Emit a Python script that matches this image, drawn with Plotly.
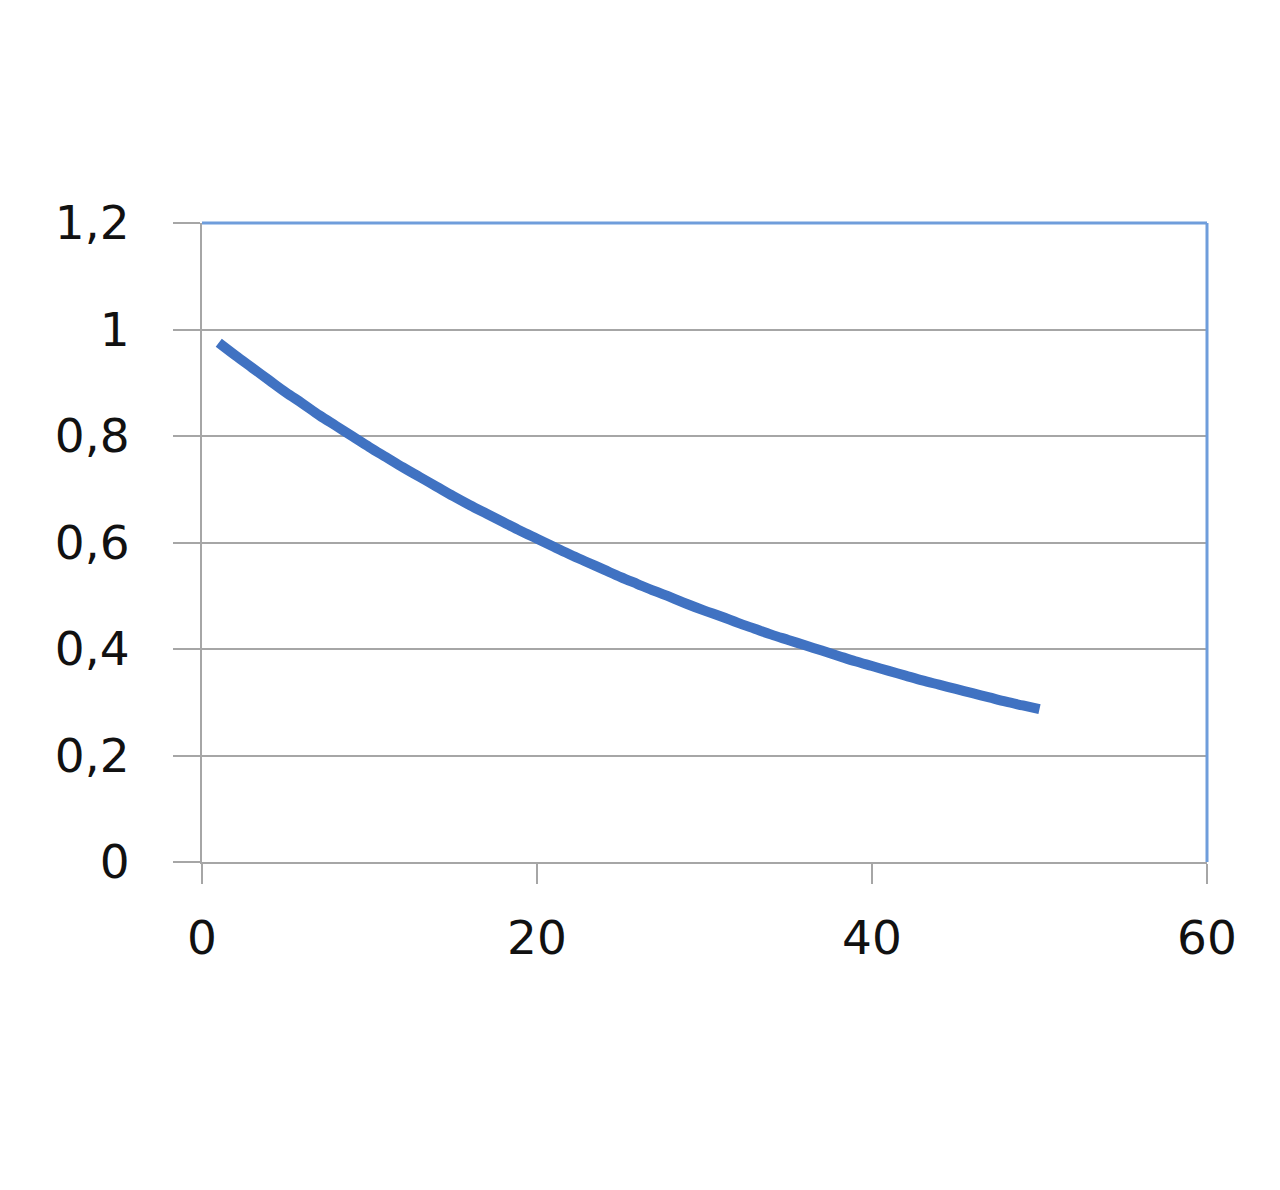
import plotly.graph_objects as go

# Data
x_vals = list(range(1, 51))
y_vals = [0.975, 0.951, 0.928, 0.905, 0.882, 0.861, 0.839, 0.819, 0.799, 0.779,
          0.760, 0.741, 0.723, 0.705, 0.687, 0.670, 0.654, 0.638, 0.622, 0.607,
          0.592, 0.577, 0.563, 0.549, 0.535, 0.522, 0.509, 0.497, 0.484, 0.472,
          0.461, 0.449, 0.438, 0.427, 0.417, 0.407, 0.397, 0.387, 0.377, 0.368,
          0.359, 0.350, 0.341, 0.333, 0.325, 0.317, 0.309, 0.301, 0.294, 0.287]
x_ticks = [0, 20, 40, 60]
y_ticks = [0, 0.2, 0.4, 0.6, 0.8, 1.0, 1.2]

GRID = "#a6a6a6"
BORDER = "#6f9ddb"
LINE = "#4072c2"

fig = go.Figure()
fig.add_trace(go.Scatter(x=x_vals, y=y_vals, mode="lines",
                         line=dict(color=LINE, width=10, shape="spline"),
                         showlegend=False, hoverinfo="skip"))

fig.update_layout(
    width=1280, height=1190,
    margin=dict(l=194, r=81, t=215, b=336),
    paper_bgcolor="white", plot_bgcolor="white",
    separators=", ",
    font=dict(family="DejaVu Sans", size=47, color="#111111"),
    xaxis=dict(range=[0, 60], tickvals=x_ticks, showgrid=False, zeroline=False,
               showline=True, linecolor=GRID, linewidth=2,
               ticks="outside", ticklen=20, tickwidth=2, tickcolor=GRID,
               ticklabelstandoff=14),
    yaxis=dict(range=[0, 1.2], tickvals=y_ticks, showgrid=True, gridcolor=GRID,
               gridwidth=2, zeroline=False, showline=True, linecolor=GRID,
               linewidth=2, ticks="outside", ticklen=27, tickwidth=2,
               tickcolor=GRID, ticklabelstandoff=34),
    shapes=[
        dict(type="line", xref="paper", yref="paper", x0=0, x1=1, y0=1, y1=1,
             line=dict(color=BORDER, width=3), layer="above"),
        dict(type="line", xref="paper", yref="paper", x0=1, x1=1, y0=0, y1=1,
             line=dict(color=BORDER, width=3), layer="above"),
    ],
)

fig.write_html("out.html")
